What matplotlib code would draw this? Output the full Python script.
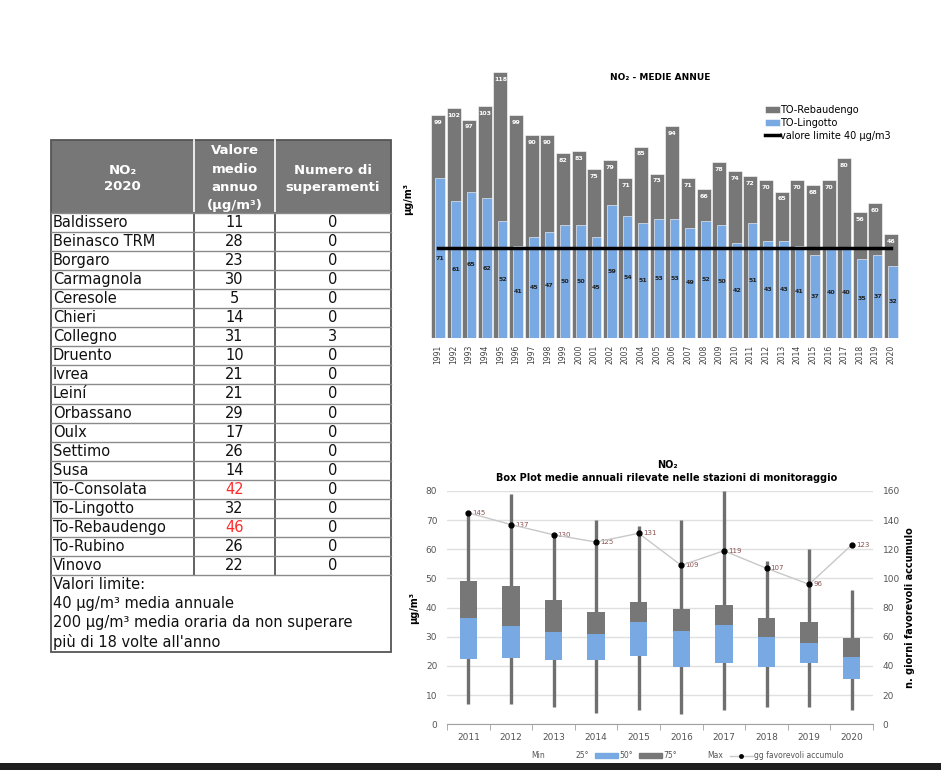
import matplotlib.pyplot as plt
from matplotlib.patches import Rectangle, Patch
from matplotlib.lines import Line2D

### Dati

# tabella NO2 2020
stazioni = ["Baldissero", "Beinasco TRM", "Borgaro", "Carmagnola", "Ceresole", "Chieri",
            "Collegno", "Druento", "Ivrea", "Leiní", "Orbassano", "Oulx", "Settimo", "Susa",
            "To-Consolata", "To-Lingotto", "To-Rebaudengo", "To-Rubino", "Vinovo"]
medie_2020 = [11, 28, 23, 30, 5, 14, 31, 10, 21, 21, 29, 17, 26, 14, 42, 32, 46, 26, 22]
superamenti = [0, 0, 0, 0, 0, 0, 3, 0, 0, 0, 0, 0, 0, 0, 0, 0, 0, 0, 0]
note = ["Valori limite:", "40 µg/m³ media annuale",
        "200 µg/m³ media oraria da non superare", "più di 18 volte all'anno"]

# medie annue
anni = list(range(1991, 2021))
rebaudengo = [99, 102, 97, 103, 118, 99, 90, 90, 82, 83, 75, 79, 71, 85, 73, 94, 71, 66, 78, 74,
              72, 70, 65, 70, 68, 70, 80, 56, 60, 46]
lingotto = [71, 61, 65, 62, 52, 41, 45, 47, 50, 50, 45, 59, 54, 51, 53, 53, 49, 52, 50, 42,
            51, 43, 43, 41, 37, 40, 40, 35, 37, 32]
limite = [40] * len(anni)

# box plot stazioni
anni_box = list(range(2011, 2021))
b_min = [7, 7, 6, 4, 5, 3.5, 5, 6, 6, 5]
b_q1 = [22.3, 22.8, 22, 22, 23.5, 19.5, 21, 19.5, 21, 15.5]
b_med = [36.5, 33.6, 31.7, 31.1, 35, 32, 34.2, 30, 28, 23]
b_q3 = [49.1, 47.4, 42.6, 38.5, 42.1, 39.4, 40.9, 36.4, 35, 29.5]
b_max = [72.5, 79, 65, 70, 68, 70, 80, 56, 60, 46]
gg_accumulo = [145, 137, 130, 125, 131, 109, 119, 107, 96, 123]

GRIGIO = '#777777'
BLU = '#79a9e3'
W, H = 941, 770

fig = plt.figure(figsize=(W / 100, H / 100), dpi=100)
plt.rcParams['font.family'] = 'DejaVu Sans'

def px_axes(l, t, r, b):
    return fig.add_axes([l / W, 1 - b / H, (r - l) / W, (b - t) / H])

########### Tabella

tab = px_axes(0, 0, W, H)
tab.set_xlim(0, W)
tab.set_ylim(H, 0)
tab.axis('off')

x0, x1, x2, x3 = 51, 194, 275, 391
top, head_b = 140, 213
rh = 19.05
n = len(stazioni)
rows_b = head_b + n * rh
foot_b = 652

tab.add_patch(Rectangle((x0, top), x3 - x0, head_b - top, facecolor=GRIGIO, edgecolor='none'))
for xv in (x1, x2):
    tab.plot([xv, xv], [top, head_b], color='white', lw=1.2)
    tab.plot([xv, xv], [head_b, rows_b], color='#555555', lw=1.3)
for i in range(n + 1):
    tab.plot([x0, x3], [head_b + i * rh] * 2, color='#8a8a8a', lw=1)
tab.add_patch(Rectangle((x0, top), x3 - x0, foot_b - top, facecolor='none',
                        edgecolor='#555555', lw=1.3))

hk = dict(color='white', fontweight='bold', fontsize=9.5, ha='center', va='center')
tab.text((x0 + x1) / 2, 170, "NO₂", **hk)
tab.text((x0 + x1) / 2, 187, "2020", **hk)
for k, s in enumerate(["Valore", "medio", "annuo", "(µg/m³)"]):
    tab.text((x1 + x2) / 2, 151 + k * 18.3, s, **hk)
tab.text((x2 + x3) / 2, 170, "Numero di", **hk)
tab.text((x2 + x3) / 2, 187, "superamenti", **hk)

for i, (s, v, e) in enumerate(zip(stazioni, medie_2020, superamenti)):
    yc = head_b + (i + 0.5) * rh
    tab.text(x0 + 2, yc, s, fontsize=10.5, va='center', ha='left', color='#111111')
    tab.text((x1 + x2) / 2, yc, str(v), fontsize=10.5, va='center', ha='center',
             color='#ff2a2a' if v > 40 else '#111111')
    tab.text((x2 + x3) / 2, yc, str(e), fontsize=10.5, va='center', ha='center', color='#111111')

for k, s in enumerate(note):
    tab.text(x0 + 2, rows_b + 10 + k * 19, s, fontsize=10.5, va='center', ha='left', color='#111111')

# banda scura in basso
tab.add_patch(Rectangle((0, 763), W, 7, facecolor='#1e1e1e', edgecolor='none'))

########### Medie annue

ax = px_axes(427, 60, 902, 338)
idx = list(range(len(anni)))
b1 = ax.bar([i for i in idx], rebaudengo, width=0.9, color=GRIGIO, edgecolor='white', lw=0.4,
            zorder=2)
b2 = ax.bar([i + 0.14 for i in idx], lingotto, width=0.62, color=BLU, edgecolor='white', lw=0.4,
            zorder=3)
l1, = ax.plot(idx, limite, color='black', lw=2.5, zorder=4)
for i in idx:
    ax.text(i, rebaudengo[i] - 3.2, str(rebaudengo[i]), color='white', fontsize=4.5,
            fontweight='bold', ha='center', va='center', zorder=5)
    ax.text(i + 0.14, lingotto[i] / 2, str(lingotto[i]), color='#222222', fontsize=4.5,
            fontweight='bold', ha='center', va='center', zorder=5)
ax.set_xlim(-0.7, len(anni) - 0.3)
ax.set_ylim(0, 123.5)
ax.set_xticks(idx)
ax.set_xticklabels([str(a) for a in anni], rotation=90, fontsize=5.5, color='#404040')
ax.tick_params(axis='x', length=0, pad=5)
ax.set_yticks([])
for sp in ax.spines.values():
    sp.set_visible(False)
ax.set_ylabel("µg/m³", fontsize=7, fontweight='bold', labelpad=6)
ax.yaxis.set_label_coords(-0.03, 0.5)
ax.legend([b1, b2, l1], ['TO-Rebaudengo', 'TO-Lingotto', 'valore limite 40 µg/m3'],
          loc='upper right', bbox_to_anchor=(0.995, 0.87), frameon=False, fontsize=7,
          handlelength=1.6, handleheight=0.7, handletextpad=0.0, labelspacing=0.3)
fig.text(660 / W, 1 - 78 / H, "NO₂ - MEDIE ANNUE", fontsize=6.5, fontweight='bold',
         ha='center', va='center')

########### Box plot

bx = px_axes(447, 491, 873, 724.3)
xb = list(range(len(anni_box)))
bx.vlines(xb, b_min, b_max, color='#6f6f6f', lw=2.4, zorder=2)
bx.bar(xb, [m - q for m, q in zip(b_med, b_q1)], bottom=b_q1, width=0.41, color=BLU, zorder=3)
bx.bar(xb, [q - m for q, m in zip(b_q3, b_med)], bottom=b_med, width=0.41, color=GRIGIO, zorder=3)
bx.set_xlim(-0.5, len(anni_box) - 0.5)
bx.set_ylim(0, 80)
bx.set_yticks(range(0, 81, 10))
bx.yaxis.grid(True, color='#e0e0e0', lw=1)
bx.set_axisbelow(True)
bx.set_xticks(xb)
bx.set_xticklabels([str(a) for a in anni_box], fontsize=6.5, color='#555555')
bx.set_xticks([i - 0.5 for i in range(len(anni_box) + 1)], minor=True)
bx.tick_params(axis='x', which='major', length=0, pad=6)
bx.tick_params(axis='x', which='minor', length=4, color='#a0a0a0', direction='out')
bx.tick_params(axis='y', length=0, labelsize=6.5, labelcolor='#555555', pad=7)
for s in ('left', 'right', 'top'):
    bx.spines[s].set_visible(False)
bx.spines['bottom'].set_color('#a0a0a0')
bx.set_ylabel("µg/m³", fontsize=7, fontweight='bold')
bx.yaxis.set_label_coords(-0.065, 0.5)

bx2 = bx.twinx()
bx2.plot(xb, gg_accumulo, color='#c8c8c8', lw=1, marker='o', ms=3.5, mfc='black', mec='black',
         zorder=5)
for i, g in zip(xb, gg_accumulo):
    bx2.annotate(str(g), (i, g), xytext=(3, 0), textcoords='offset points', fontsize=5,
                 color='#8a5050', va='center', ha='left')
bx2.set_ylim(0, 160)
bx2.set_yticks(range(0, 161, 20))
bx2.tick_params(axis='y', length=0, labelsize=6.5, labelcolor='#555555', pad=7)
for s in ('left', 'right', 'top', 'bottom'):
    bx2.spines[s].set_visible(False)
bx2.set_ylabel("n. giorni favorevoli accumulo", fontsize=7, fontweight='bold')
bx2.yaxis.set_label_coords(1.075, 0.5)

fig.text(667 / W, 1 - 465 / H, "NO₂", fontsize=7, fontweight='bold', ha='center', va='center')
fig.text(667 / W, 1 - 478 / H, "Box Plot medie annuali rilevate nelle stazioni di monitoraggio",
         fontsize=7, fontweight='bold', ha='center', va='center')

vuoto = Patch(facecolor='none', edgecolor='none')
handles = [vuoto, vuoto, Patch(color=BLU), Patch(color=GRIGIO), vuoto,
           Line2D([], [], color='#c8c8c8', lw=1, marker='o', ms=2.5, mfc='black', mec='black')]
labels = ["Min", "25°", "50°", "75°", "Max", "gg favorevoli accumulo"]
fig.legend(handles, labels, loc='center', bbox_to_anchor=(675 / W, 1 - 756 / H), ncol=6,
           frameon=False, fontsize=5.5, handlelength=3, handleheight=0.6, handletextpad=0.2,
           columnspacing=0.8, labelcolor='#555555')

fig.savefig("out.png", dpi=100, facecolor='white')
